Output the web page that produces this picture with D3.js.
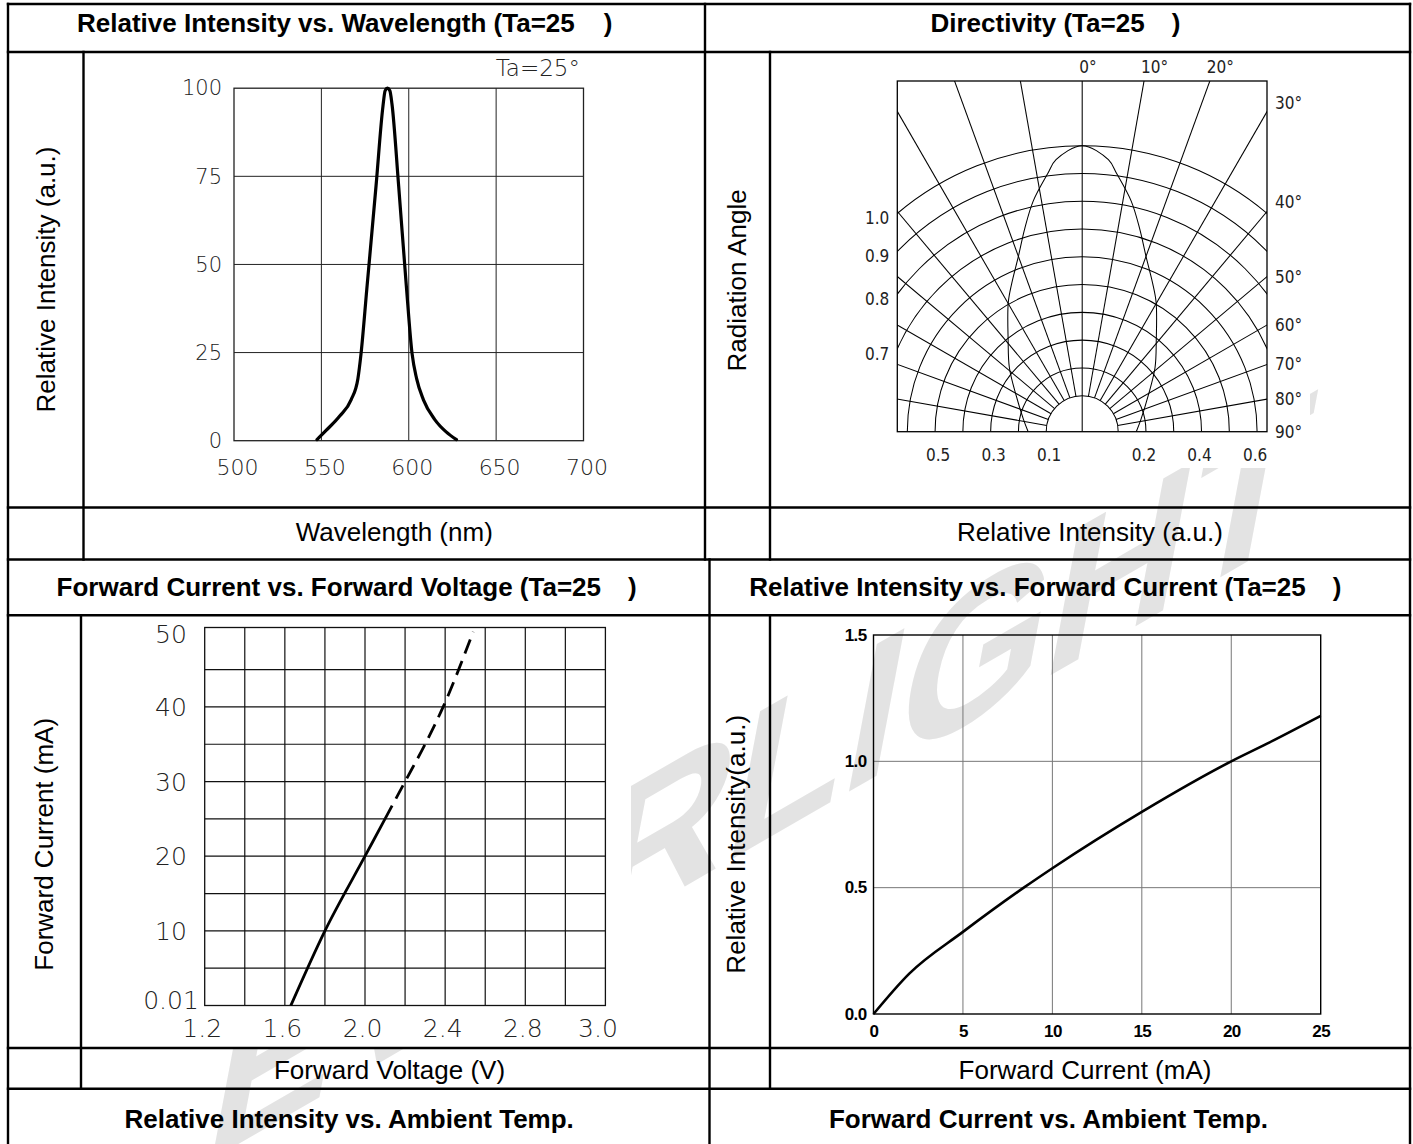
<!DOCTYPE html>
<html><head><meta charset="utf-8">
<script src="https://cdn.jsdelivr.net/npm/d3@7"></script>
<style>
html,body{margin:0;padding:0;background:#fff;}
svg{display:block;}
</style></head><body>
<svg id="c" width="1413" height="1144"></svg>
<script>
// ================= DATA =================
// Relative Intensity vs. Wavelength
const spectrumWavelength = [547.5,552.7,560.5,567,570.9,572.7,576,581.3,585.2,586.5,587.8,589.2,590.4,594.2,598.6,601.9,604.5,608.4,614.9,621.4,627.3];
const spectrumIntensity  = [0.3,2.9,7.0,11.6,17.6,24.7,43,72.4,94.7,99.3,100,99.3,95.5,72.4,44,24.7,17.6,11.6,6.0,2.5,0.3];
const specXTicks = [500,550,600,650,700];
const specYTicks = [0,25,50,75,100];
const specNote = "Ta=25°";

// Directivity (half pattern, mirrored)
const dirAngles = [0,5.5,7.6,12,15.8,20,25.3,29.8,38.9,48.6,61.4,78.4,90];
const dirValues = [1.0,0.954,0.908,0.819,0.73,0.642,0.563,0.506,0.395,0.32,0.241,0.186,0.165];
const dirRings  = [0.1,0.2,0.3,0.4,0.5,0.6,0.7,0.8,0.9,1.0];
const dirSpokes = [-80,-70,-60,-50,-40,-30,-20,-10,10,20,30,40,50,60,70,80];
const dirTopLabels   = [0,10,20];
const dirRightLabels = [30,40,50,60,70,80,90];
const dirLeftLabels  = [1.0,0.9,0.8,0.7];
const dirBottomLeftLabels  = [0.5,0.3,0.1];
const dirBottomRightLabels = [0.2,0.4,0.6];

// Forward Current vs. Forward Voltage
const fvVoltSolid = [1.63,1.80,2.00,2.10];
const fvCurrSolid = [0,10,20,25];
const fvVoltDash  = [2.10,2.20,2.30,2.39,2.54];
const fvCurrDash  = [25,30,35,40,49.5];
const fvXTicks  = [1.2,1.6,2.0,2.4,2.8,3.0];
const fvXLabels = ["1.2","1.6","2.0","2.4","2.8","3.0"];
const fvYTicks  = [0,10,20,30,40,50];
const fvYLabels = ["0.01","10","20","30","40","50"];
const fvGridX = [1.4,1.6,1.8,2.0,2.2,2.4,2.6,2.8,2.9];
const fvGridY = [5,10,15,20,25,30,35,40,45];

// Relative Intensity vs. Forward Current
const riCurrent   = [0,2,5,8.4,10,15,20,22,25];
const riIntensity = [0,0.16,0.325,0.50,0.577,0.80,1.0,1.07,1.18];
const riXTicks = [0,5,10,15,20,25];
const riYTicks = [0,0.5,1.0,1.5];

// Table texts
const titles = [
  {t:"Relative Intensity vs. Wavelength (Ta=25", x:77, y:31.5, gap:29},
  {t:"Directivity (Ta=25", x:930.5, y:31.5, gap:27},
  {t:"Forward Current vs. Forward Voltage (Ta=25", x:56.6, y:595.5, gap:27},
  {t:"Relative Intensity vs. Forward Current (Ta=25", x:749.2, y:595.5, gap:27},
  {t:"Relative Intensity vs. Ambient Temp.", x:124.5, y:1128, gap:null},
  {t:"Forward Current vs. Ambient Temp.", x:828.9, y:1128, gap:null}
];
const axisTitles = [
  {t:"Wavelength (nm)", x:394.3, y:541},
  {t:"Relative Intensity (a.u.)", x:1090, y:541},
  {t:"Forward Voltage (V)", x:389.5, y:1079},
  {t:"Forward Current (mA)", x:1085, y:1079}
];
const sideTitles = [
  {t:"Relative Intensity (a.u.)", x:55, y:279.5},
  {t:"Radiation Angle", x:745.5, y:280.4},
  {t:"Forward Current (mA)", x:52.5, y:844.3},
  {t:"Relative Intensity(a.u.)", x:745, y:844.3}
];
const watermark = "EVERLIGHT";

// ================= DRAW =================
const FONT_TXT = "'Liberation Sans', Arial, Helvetica, sans-serif";
const FONT_CAD = "'DejaVu Sans', sans-serif";
const FONT_NAR = "'Liberation Sans Narrow', 'DejaVu Sans Condensed', 'DejaVu Sans', sans-serif";
const svg = d3.select("#c");
svg.append("rect").attr("width",1413).attr("height",1144).attr("fill","#fff");

// watermark (behind everything)
svg.append("text")
  .attr("transform","translate(199.5,1166.6) skewY(-30) skewX(-12)")
  .attr("font-family",FONT_TXT).attr("font-weight","bold").attr("font-size",191)
  .attr("fill","#e3e3e3").text(watermark);
// opaque chart images covering the watermark
svg.append("rect").attr("x",771).attr("y",53).attr("width",539).attr("height",415).attr("fill","#fff");
svg.append("rect").attr("x",82).attr("y",616).attr("width",549).attr("height",431).attr("fill","#fff");

// ---------- table ----------
const tg = svg.append("g").attr("stroke","#000").attr("stroke-width",2.4).attr("fill","none");
const hLines = [[8,1410,4],[8,1410,52],[8,1410,507.5],[8,1410,559.5],[8,1410,615.3],[8,1410,1048],[8,1410,1088.7]];
const vLines = [[8,4,1144],[1410,4,1144],[705,4,559.5],[709.5,559.5,1144],[83.5,52,559.5],[770,52,559.5],[81,615.3,1088.7],[770,615.3,1088.7]];
tg.selectAll(".h").data(hLines).join("line").attr("x1",d=>d[0]-1.2).attr("x2",d=>d[1]+1.2).attr("y1",d=>d[2]).attr("y2",d=>d[2]);
tg.selectAll(".v").data(vLines).join("line").attr("x1",d=>d[0]).attr("x2",d=>d[0]).attr("y1",d=>d[1]-1.2).attr("y2",d=>d[2]+1.2);

// titles
titles.forEach(d=>{
  const t = svg.append("text").attr("x",d.x).attr("y",d.y).attr("font-family",FONT_TXT)
    .attr("font-weight","bold").attr("font-size",26).attr("fill","#000").text(d.t);
  if(d.gap!==null) t.append("tspan").attr("dx",d.gap).text(")");
});
axisTitles.forEach(d=>{
  svg.append("text").attr("x",d.x).attr("y",d.y).attr("text-anchor","middle")
    .attr("font-family",FONT_TXT).attr("font-size",26).attr("fill","#000").text(d.t);
});
sideTitles.forEach(d=>{
  svg.append("text").attr("transform",`translate(${d.x},${d.y}) rotate(-90)`).attr("text-anchor","middle")
    .attr("font-family",FONT_TXT).attr("font-size",26).attr("fill","#000").text(d.t);
});

// ---------- Chart 1: spectrum ----------
{
  const x = d3.scaleLinear().domain([500,700]).range([234,583.5]);
  const y = d3.scaleLinear().domain([0,100]).range([440.7,88.2]);
  const g = svg.append("g");
  g.selectAll(".gx").data(specXTicks.slice(1,-1)).join("line")
    .attr("x1",d=>x(d)).attr("x2",d=>x(d)).attr("y1",y(0)).attr("y2",y(100))
    .attr("stroke","#222").attr("stroke-width",1);
  g.selectAll(".gy").data(specYTicks.slice(1,-1)).join("line")
    .attr("y1",d=>y(d)).attr("y2",d=>y(d)).attr("x1",x(500)).attr("x2",x(700))
    .attr("stroke","#222").attr("stroke-width",1);
  g.append("rect").attr("x",x(500)).attr("y",y(100)).attr("width",x(700)-x(500)).attr("height",y(0)-y(100))
    .attr("fill","none").attr("stroke","#222").attr("stroke-width",1.3);
  const ay = g.append("g").attr("transform",`translate(${x(500)},0)`)
    .call(d3.axisLeft(y).tickValues(specYTicks).tickSize(0).tickPadding(12));
  ay.select(".domain").remove();
  ay.selectAll("text").attr("font-family",FONT_CAD).attr("font-weight",200).attr("font-size",21).attr("fill","#222");
  const ax = g.append("g").attr("transform",`translate(0,${y(0)})`)
    .call(d3.axisBottom(x).tickValues(specXTicks).tickSize(0));
  ax.select(".domain").remove();
  ax.selectAll("text").attr("y",27).attr("dy","0.35em").attr("dx",3)
    .attr("font-family",FONT_CAD).attr("font-weight",200).attr("font-size",22).attr("fill","#222");
  g.append("text").attr("x",580).attr("y",68).attr("dy","0.35em").attr("text-anchor","end")
    .attr("font-family",FONT_CAD).attr("font-weight",200).attr("font-size",23).attr("fill","#222").text(specNote);
  const pts = spectrumWavelength.map((w,i)=>[w,spectrumIntensity[i]]);
  g.append("path").datum(pts)
    .attr("d",d3.line().x(d=>x(d[0])).y(d=>y(d[1])).curve(d3.curveMonotoneX))
    .attr("fill","none").attr("stroke","#000").attr("stroke-width",3.2)
    .attr("stroke-linecap","round").attr("stroke-linejoin","round");
}

// ---------- Chart 2: directivity ----------
{
  const cx=1082.2, cy=431.7, bx0=897.3, bx1=1267, by0=81, by1=431.7;
  const r = d3.scaleLinear().domain([0.1,1.0]).range([36,286]);
  const rad = a => a*Math.PI/180;
  const defs = svg.append("defs");
  defs.append("clipPath").attr("id","dirClip").append("rect")
    .attr("x",bx0).attr("y",by0).attr("width",bx1-bx0).attr("height",by1-by0);
  const g = svg.append("g");
  const gc = g.append("g").attr("clip-path","url(#dirClip)")
    .attr("stroke","#000").attr("stroke-width",1.05).attr("fill","none");
  gc.selectAll(".ring").data(dirRings).join("path")
    .attr("d",v=>{const p=d3.path(); p.arc(cx,cy,r(v),Math.PI,2*Math.PI); return p.toString();});
  gc.selectAll(".spoke").data(dirSpokes).join("line")
    .attr("x1",a=>cx+r(0.1)*Math.sin(rad(a))).attr("y1",a=>cy-r(0.1)*Math.cos(rad(a)))
    .attr("x2",a=>cx+800*Math.sin(rad(a))).attr("y2",a=>cy-800*Math.cos(rad(a)));
  gc.append("line").attr("x1",cx).attr("x2",cx).attr("y1",cy).attr("y2",by0);
  const half = dirAngles.map((a,i)=>({a:a,v:dirValues[i]}));
  const full = half.slice(1).reverse().map(d=>({a:-d.a,v:d.v})).concat(half);
  gc.append("path").datum(full)
    .attr("transform",`translate(${cx},${cy})`)
    .attr("d",d3.lineRadial().angle(d=>rad(d.a)).radius(d=>r(d.v)).curve(d3.curveCatmullRom));
  g.append("rect").attr("x",bx0).attr("y",by0).attr("width",bx1-bx0).attr("height",by1-by0)
    .attr("fill","none").attr("stroke","#000").attr("stroke-width",1.3);
  const lab = sel => sel.attr("font-family",FONT_NAR).attr("font-size",17).attr("fill","#222").attr("dy","0.35em");
  g.selectAll(".tl").data(dirTopLabels).join("text")
    .attr("x",a=>cx+(cy-by0)*Math.tan(rad(a))-3).attr("y",67).call(lab).text(a=>a+"°");
  g.selectAll(".rl").data(dirRightLabels).join("text")
    .attr("x",bx1+8)
    .attr("y",a=>{const yy=cy-(bx1-cx)/Math.tan(rad(a)); return a<=40? yy-9 : yy;})
    .call(lab).text(a=>a+"°");
  g.selectAll(".ll").data(dirLeftLabels).join("text")
    .attr("x",bx0-8).attr("text-anchor","end")
    .attr("y",v=>cy-Math.sqrt(r(v)*r(v)-(cx-bx0)*(cx-bx0))+5)
    .call(lab).text(v=>v.toFixed(1));
  g.selectAll(".bl").data(dirBottomLeftLabels).join("text")
    .attr("x",v=>cx-r(v)+3).attr("y",455).attr("text-anchor","middle").call(lab).text(v=>v.toFixed(1));
  g.selectAll(".br").data(dirBottomRightLabels).join("text")
    .attr("x",v=>cx+r(v)-2).attr("y",455).attr("text-anchor","middle").call(lab).text(v=>v.toFixed(1));
}

// ---------- Chart 3: forward current vs voltage ----------
{
  const x = d3.scaleLinear().domain([1.2,2.8,3.0]).range([204.7,525.3,605.4]);
  const y = d3.scaleLinear().domain([0,45,50]).range([1005.5,669.6,627.5]);
  const g = svg.append("g");
  g.selectAll(".gx").data(fvGridX).join("line")
    .attr("x1",d=>x(d)).attr("x2",d=>x(d)).attr("y1",y(0)).attr("y2",y(50))
    .attr("stroke","#111").attr("stroke-width",1.2);
  g.selectAll(".gy").data(fvGridY).join("line")
    .attr("y1",d=>y(d)).attr("y2",d=>y(d)).attr("x1",x(1.2)).attr("x2",x(3.0))
    .attr("stroke","#111").attr("stroke-width",1.2);
  g.append("rect").attr("x",x(1.2)).attr("y",y(50)).attr("width",x(3.0)-x(1.2)).attr("height",y(0)-y(50))
    .attr("fill","none").attr("stroke","#111").attr("stroke-width",1.3);
  const ax = g.append("g").attr("transform",`translate(0,${y(0)})`)
    .call(d3.axisBottom(x).tickValues(fvXTicks).tickSize(0).tickFormat((d,i)=>fvXLabels[i]));
  ax.select(".domain").remove();
  ax.selectAll("text").attr("y",23).attr("dy","0.35em").attr("dx",(d,i)=>i===fvXTicks.length-1?-8:-3)
    .attr("font-family",FONT_CAD).attr("font-weight",200).attr("font-size",25).attr("fill","#222");
  const ay = g.append("g").attr("transform",`translate(171,0)`)
    .call(d3.axisLeft(y).tickValues(fvYTicks).tickSize(0).tickPadding(0).tickFormat((d,i)=>fvYLabels[i]));
  ay.select(".domain").remove();
  ay.selectAll("text").attr("text-anchor","middle").attr("dy",(d,i)=>i===0?"0.1em":(i===fvYTicks.length-1?"0.6em":"0.35em"))
    .attr("font-family",FONT_CAD).attr("font-weight",200).attr("font-size",25).attr("fill","#222");
  const line = d3.line().x(d=>x(d[0])).y(d=>y(d[1])).curve(d3.curveMonotoneX);
  g.append("path").datum(fvVoltSolid.map((v,i)=>[v,fvCurrSolid[i]]))
    .attr("d",line).attr("fill","none").attr("stroke","#000").attr("stroke-width",2.8);
  g.append("path").datum(fvVoltDash.map((v,i)=>[v,fvCurrDash[i]]))
    .attr("d",line).attr("fill","none").attr("stroke","#000").attr("stroke-width",2.8)
    .attr("stroke-dasharray","15,8");
}

// ---------- Chart 4: relative intensity vs forward current ----------
{
  const x = d3.scaleLinear().domain([0,25]).range([873.5,1320.7]);
  const y = d3.scaleLinear().domain([0,1.5]).range([1014,635]);
  const g = svg.append("g");
  g.selectAll(".gx").data(riXTicks.slice(1,-1)).join("line")
    .attr("x1",d=>x(d)).attr("x2",d=>x(d)).attr("y1",y(0)).attr("y2",y(1.5))
    .attr("stroke","#777").attr("stroke-width",1);
  g.selectAll(".gy").data(riYTicks.slice(1,-1)).join("line")
    .attr("y1",d=>y(d)).attr("y2",d=>y(d)).attr("x1",x(0)).attr("x2",x(25))
    .attr("stroke","#777").attr("stroke-width",1);
  g.append("rect").attr("x",x(0)).attr("y",y(1.5)).attr("width",x(25)-x(0)).attr("height",y(0)-y(1.5))
    .attr("fill","none").attr("stroke","#000").attr("stroke-width",1.4);
  const ax = g.append("g").attr("transform",`translate(0,${y(0)})`)
    .call(d3.axisBottom(x).tickValues(riXTicks).tickSize(0));
  ax.select(".domain").remove();
  ax.selectAll("text").attr("y",17).attr("dy","0.35em")
    .attr("font-family",FONT_TXT).attr("font-weight","bold").attr("font-size",17)
    .attr("letter-spacing",-0.6).attr("fill","#000");
  const ay = g.append("g").attr("transform",`translate(${x(0)},0)`)
    .call(d3.axisLeft(y).tickValues(riYTicks).tickSize(0).tickPadding(7).tickFormat(d3.format(".1f")));
  ay.select(".domain").remove();
  ay.selectAll("text").attr("dy","0.3em")
    .attr("font-family",FONT_TXT).attr("font-weight","bold").attr("font-size",17)
    .attr("letter-spacing",-0.6).attr("fill","#000");
  g.append("path").datum(riCurrent.map((c,i)=>[c,riIntensity[i]]))
    .attr("d",d3.line().x(d=>x(d[0])).y(d=>y(d[1])).curve(d3.curveMonotoneX))
    .attr("fill","none").attr("stroke","#000").attr("stroke-width",2.6);
}
</script>
</body></html>
